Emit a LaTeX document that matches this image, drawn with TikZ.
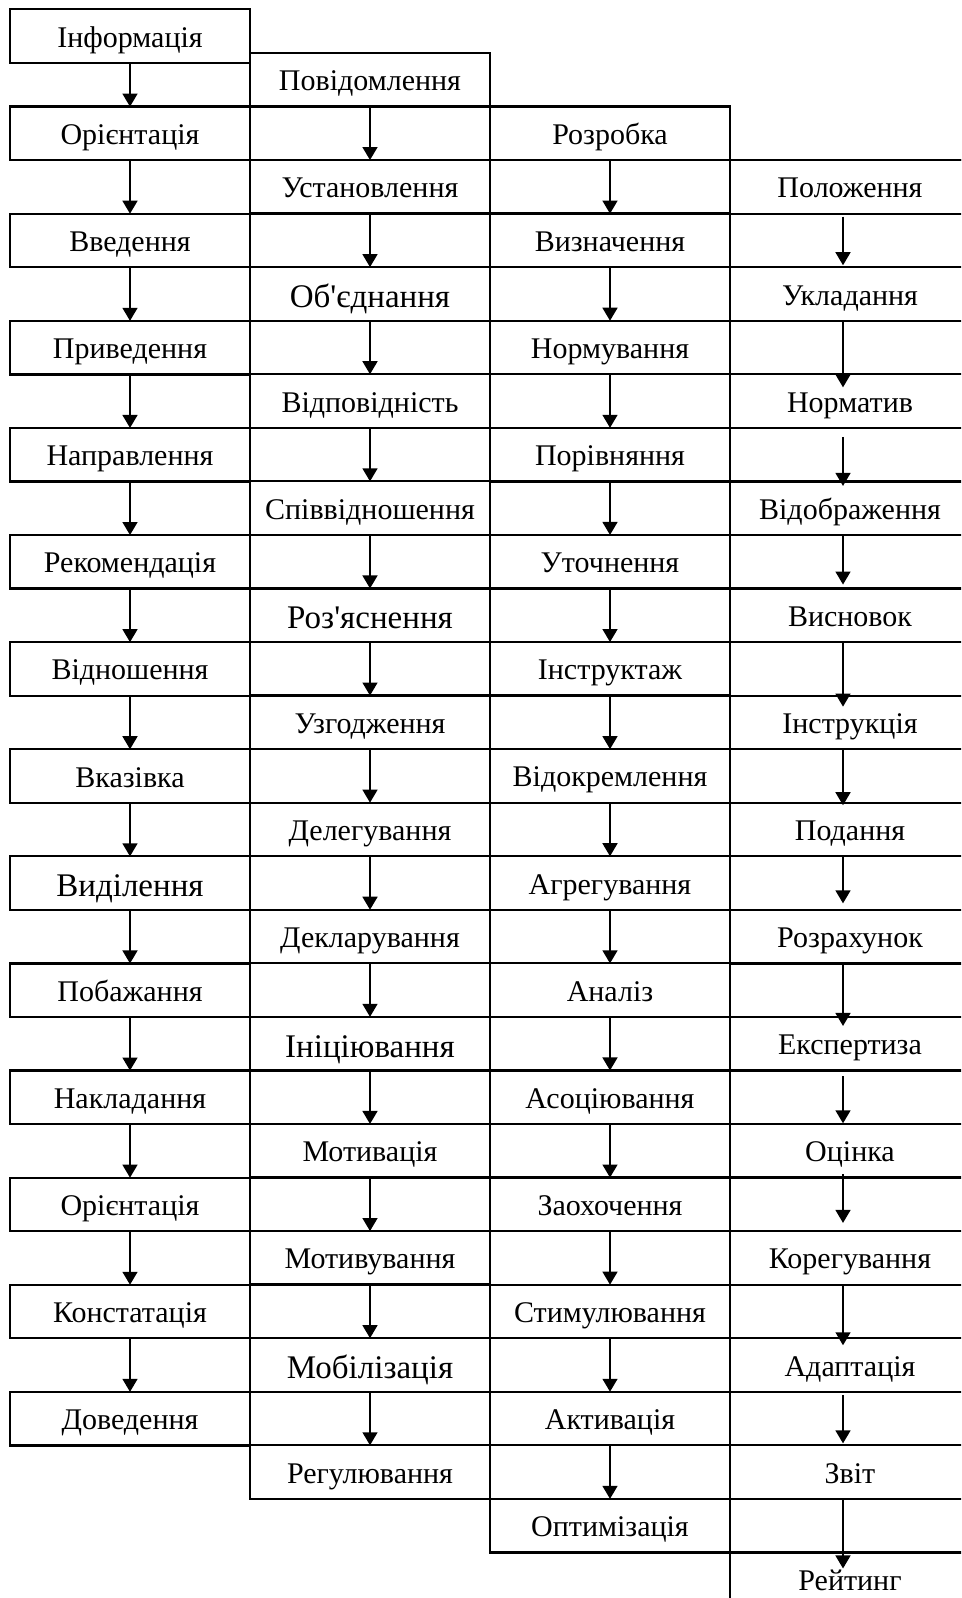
\documentclass[tikz,border=0pt]{standalone}
\usepackage{fontspec}
\setmainfont{Liberation Serif}[Ligatures=TeXOff]
\usepackage{tikz}
\usetikzlibrary{
    arrows.meta,
    positioning
}
\tikzset{
    cell/.style={
        rectangle, draw=black, line width=0.9pt, fill=white,
        minimum width=96pt, minimum height=21.42pt, inner sep=0pt, outer sep=0pt,
        text height=8.8pt, text depth=0pt,
        font=\fontsize{12}{14}\selectfont
    },
    big/.style={font=\fontsize{13.2}{15}\selectfont, text height=10.8pt},
    frame/.style={draw=black, line width=0.9pt},
    arr/.style={-{Triangle[length=5.2pt, width=6pt]}, line width=0.6pt, black},
}

\begin{document}
\begin{tikzpicture}[x=0.4pt, y=-0.4pt, node distance=21.42pt]

    \useasboundingbox (0,0) rectangle (961,1598);
    \clip (0,0) rectangle (961,1598);

    % first column
    \node [cell] (a1) at (130,36.1) {Інформація};
    \node [cell, below=17.5pt of a1] (a2) {Орієнтація};
    \node [cell, below=of a2] (a3) {Введення};
    \node [cell, below=of a3] (a4) {Приведення};
    \node [cell, below=of a4] (a5) {Направлення};
    \node [cell, below=of a5] (a6) {Рекомендація};
    \node [cell, below=of a6] (a7) {Відношення};
    \node [cell, below=of a7] (a8) {Вказівка};
    \node [cell, big, below=of a8] (a9) {Виділення};
    \node [cell, below=of a9] (a10) {Побажання};
    \node [cell, below=of a10] (a11) {Накладання};
    \node [cell, below=of a11] (a12) {Орієнтація};
    \node [cell, below=of a12] (a13) {Констатація};
    \node [cell, below=of a13] (a14) {Доведення};

    % second column
    \node [cell] (b1) at (370,79.7) {Повідомлення};
    \node [cell, below=of b1] (b2) {Установлення};
    \node [cell, big, below=of b2] (b3) {Об'єднання};
    \node [cell, below=of b3] (b4) {Відповідність};
    \node [cell, below=of b4] (b5) {Співвідношення};
    \node [cell, big, below=of b5] (b6) {Роз'яснення};
    \node [cell, below=of b6] (b7) {Узгодження};
    \node [cell, below=of b7] (b8) {Делегування};
    \node [cell, below=of b8] (b9) {Декларування};
    \node [cell, big, below=of b9] (b10) {Ініціювання};
    \node [cell, below=of b10] (b11) {Мотивація};
    \node [cell, below=of b11] (b12) {Мотивування};
    \node [cell, big, below=of b12] (b13) {Мобілізація};
    \node [cell, below=of b13] (b14) {Регулювання};

    % third column
    \node [cell] (c1) at (610,133.3) {Розробка};
    \node [cell, below=of c1] (c2) {Визначення};
    \node [cell, below=of c2] (c3) {Нормування};
    \node [cell, below=of c3] (c4) {Порівняння};
    \node [cell, below=of c4] (c5) {Уточнення};
    \node [cell, below=of c5] (c6) {Інструктаж};
    \node [cell, below=of c6] (c7) {Відокремлення};
    \node [cell, below=of c7] (c8) {Агрегування};
    \node [cell, below=of c8] (c9) {Аналіз};
    \node [cell, below=of c9] (c10) {Асоціювання};
    \node [cell, below=of c10] (c11) {Заохочення};
    \node [cell, below=of c11] (c12) {Стимулювання};
    \node [cell, below=of c12] (c13) {Активація};
    \node [cell, below=of c13] (c14) {Оптимізація};

    % fourth column
    \node [cell] (d1) at (850,186.9) {Положення};
    \node [cell, below=of d1] (d2) {Укладання};
    \node [cell, below=of d2] (d3) {Норматив};
    \node [cell, below=of d3] (d4) {Відображення};
    \node [cell, below=of d4] (d5) {Висновок};
    \node [cell, below=of d5] (d6) {Інструкція};
    \node [cell, below=of d6] (d7) {Подання};
    \node [cell, below=of d7] (d8) {Розрахунок};
    \node [cell, below=of d8] (d9) {Експертиза};
    \node [cell, below=of d9] (d10) {Оцінка};
    \node [cell, below=of d10] (d11) {Корегування};
    \node [cell, below=of d11] (d12) {Адаптація};
    \node [cell, below=of d12] (d13) {Звіт};
    \node [cell, below=of d13] (d14) {Рейтинг};

    % column frames
    \draw [frame] (b1.north west) rectangle (b14.south east);
    \draw [frame] (c1.north west) rectangle (c14.south east);
    \draw [frame] (d1.north west) rectangle (d14.south east);

    % arrows
    \foreach \col in {a,b,c} {
        \foreach \i [evaluate=\i as \j using int(\i+1)] in {1,...,13} {
            \draw [arr] (\col\i.south) -- (\col\j.north);
        }
    }
    \draw [arr] ([xshift=-2.8pt, yshift=-1.2pt]d1.south) -- ([xshift=-2.8pt, yshift=0.8pt]d2.north);
    \draw [arr] ([xshift=-2.8pt]d2.south) -- ([xshift=-2.8pt, yshift=-5.2pt]d3.north);
    \draw [arr] ([xshift=-2.8pt, yshift=-3.6pt]d3.south) -- ([xshift=-2.8pt, yshift=-1.8pt]d4.north);
    \draw [arr] ([xshift=-2.8pt]d4.south) -- ([xshift=-2.8pt, yshift=1.6pt]d5.north);
    \draw [arr] ([xshift=-2.8pt]d5.south) -- ([xshift=-2.8pt, yshift=-4.4pt]d6.north);
    \draw [arr] ([xshift=-2.8pt]d6.south) -- ([xshift=-2.8pt, yshift=-1pt]d7.north);
    \draw [arr] ([xshift=-2.8pt]d7.south) -- ([xshift=-2.8pt, yshift=2.6pt]d8.north);
    \draw [arr] ([xshift=-2.8pt]d8.south) -- ([xshift=-2.8pt, yshift=-3.6pt]d9.north);
    \draw [arr] ([xshift=-2.8pt, yshift=-2.2pt]d9.south) -- ([xshift=-2.8pt, yshift=0.3pt]d10.north);
    \draw [arr] ([xshift=-2.8pt, yshift=1.4pt]d10.south) -- ([xshift=-2.8pt, yshift=3.3pt]d11.north);
    \draw [arr] ([xshift=-2.8pt]d11.south) -- ([xshift=-2.8pt, yshift=-2.8pt]d12.north);
    \draw [arr] ([xshift=-2.8pt, yshift=-1.3pt]d12.south) -- ([xshift=-2.8pt, yshift=0.8pt]d13.north);
    \draw [arr] ([xshift=-2.8pt]d13.south) -- ([xshift=-2.8pt, yshift=-6.4pt]d14.north);

\end{tikzpicture}
\end{document}
